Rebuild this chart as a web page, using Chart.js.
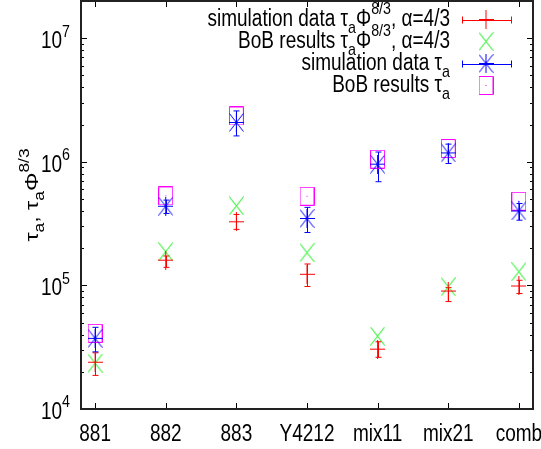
<!DOCTYPE html>
<html>
<head>
<meta charset="utf-8">
<script src="https://cdn.jsdelivr.net/npm/chart.js@4.4.0/dist/chart.umd.min.js"></script>
<style>
  body { margin: 0; background: #fff; }
  canvas { display: block; }
</style>
</head>
<body>
<canvas id="grafico" width="541" height="449"></canvas>
<script>
// categorias del eje x
var categorias = ['881', '882', '883', 'Y4212', 'mix11', 'mix21', 'comb'];

// tau_a * Phi^(8/3), alpha=4/3 (simulacion, con barras de error)
var simEscalado   = [2.39e4, 1.60e5, 3.27e5, 1.23e5, 3.05e4, 9.0e4, 9.9e4];
var simEscaladoLo = [1.87e4, 1.40e5, 2.84e5, 0.98e5, 2.62e4, 7.4e4, 8.6e4];
var simEscaladoHi = [2.85e4, 1.73e5, 3.75e5, 1.49e5, 3.50e4, 9.6e4, 1.10e5];
// tau_a * Phi^(8/3), alpha=4/3 (BoB)
var bobEscalado   = [2.35e4, 1.87e5, 4.4e5, 1.84e5, 3.89e4, 9.75e4, 1.29e5];

// tau_a (simulacion, con barras de error)
var simTau   = [3.73e4, 4.37e5, 2.08e6, 3.48e5, 9.57e5, 1.18e6, 4.0e5];
var simTauLo = [2.90e4, 3.82e5, 1.62e6, 2.68e5, 6.9e5, 9.7e5, 3.37e5];
var simTauHi = [4.58e4, 4.90e5, 2.58e6, 4.28e5, 1.2e6, 1.39e6, 4.6e5];
// tau_a (BoB)
var bobTau   = [4.1e4, 5.3e5, 2.35e6, 5.27e5, 1.05e6, 1.28e6, 4.8e5];

// etiquetas del eje y (potencias de 10)
var exponentesY = [4, 5, 6, 7];

var FUENTE = '"Liberation Sans", Arial, sans-serif';
var SY = 1.22;      // el original esta estirado en vertical
var TAM = 19;

function puntos(valores) {
  return valores.map(function(v, i) { return { x: i, y: v }; });
}

// marcadores estilo gnuplot
function marcador(tipo, color) {
  var c = document.createElement('canvas');
  var w = 15, h = 19;
  c.width = w; c.height = h;
  var g = c.getContext('2d');
  g.strokeStyle = color;
  g.fillStyle = color;
  g.lineWidth = 1;
  g.beginPath();
  if (tipo === 'mas' || tipo === 'estrella') {
    g.moveTo(0, h / 2); g.lineTo(w, h / 2);
    g.moveTo(w / 2, 0); g.lineTo(w / 2, h);
  }
  if (tipo === 'equis' || tipo === 'estrella') {
    g.moveTo(0.5, 0.5); g.lineTo(w - 0.5, h - 0.5);
    g.moveTo(w - 0.5, 0.5); g.lineTo(0.5, h - 0.5);
  }
  if (tipo === 'caja') {
    g.rect(0.5, 0.5, w - 1, h - 1);
  }
  g.stroke();
  if (tipo === 'caja') g.fillRect(7, 9, 1, 1);
  return c;
}

var mRojo = marcador('mas', '#ff0000');
var mVerde = marcador('equis', '#00ee00');
var mAzul = marcador('estrella', '#0000ff');
var mMagenta = marcador('caja', '#ff00ff');

var erroresPorDataset = { 0: [simEscaladoLo, simEscaladoHi], 2: [simTauLo, simTauHi] };

// texto con subindices / superindices: partes = [[texto, tipo]] tipo 0 normal, 1 sub, -1 sup
function textoRico(ctx, partes, x, y, tam, alinear, rotado) {
  ctx.save();
  ctx.translate(x, y);
  if (rotado) { ctx.rotate(-Math.PI / 2); ctx.scale(SY, 1); }
  else ctx.scale(1, SY);
  var ancho = 0;
  partes.forEach(function(p) {
    ctx.font = (p[1] ? tam * 0.75 : tam) + 'px ' + FUENTE;
    ancho += ctx.measureText(p[0]).width;
  });
  var cx = alinear === 'right' ? -ancho : alinear === 'center' ? -ancho / 2 : 0;
  ctx.textAlign = 'left';
  ctx.textBaseline = 'alphabetic';
  ctx.fillStyle = '#000';
  partes.forEach(function(p) {
    ctx.font = (p[1] ? tam * 0.75 : tam) + 'px ' + FUENTE;
    var dy = p[1] === 1 ? 0.3 * tam : p[1] === -1 ? -0.5 * tam : 0;
    ctx.fillText(p[0], cx, dy);
    cx += ctx.measureText(p[0]).width;
  });
  ctx.restore();
}

function barra(ctx, x, y1, y2, color) {
  ctx.strokeStyle = color;
  ctx.lineWidth = 1;
  ctx.beginPath();
  ctx.moveTo(x, y1); ctx.lineTo(x, y2);
  ctx.moveTo(x - 3, y1); ctx.lineTo(x + 3, y1);
  ctx.moveTo(x - 3, y2); ctx.lineTo(x + 3, y2);
  ctx.stroke();
}

var pluginGnuplot = {
  id: 'gnuplot',
  beforeDraw: function(chart) {
    var ctx = chart.ctx;
    ctx.save();
    ctx.fillStyle = '#fff';
    ctx.fillRect(0, 0, chart.width, chart.height);
    ctx.restore();
  },
  beforeDatasetsDraw: function(chart) {
    var ctx = chart.ctx;
    var xs = chart.scales.x, ys = chart.scales.y;
    ctx.save();
    Object.keys(erroresPorDataset).forEach(function(k) {
      var ds = chart.data.datasets[k];
      var lo = erroresPorDataset[k][0], hi = erroresPorDataset[k][1];
      ds.data.forEach(function(p, i) {
        var px = Math.round(xs.getPixelForValue(p.x)) + 0.5;
        barra(ctx, px, ys.getPixelForValue(lo[i]), ys.getPixelForValue(hi[i]), ds.borderColor);
      });
    });
    ctx.restore();
  },
  afterDraw: function(chart) {
    var ctx = chart.ctx;
    var a = chart.chartArea;
    var xs = chart.scales.x, ys = chart.scales.y;
    ctx.save();

    // marcas del eje y (log) a ambos lados
    ctx.strokeStyle = '#000';
    ctx.lineWidth = 1;
    ctx.beginPath();
    for (var e = 4; e <= 7; e++) {
      for (var m = 1; m <= 9; m++) {
        var v = m * Math.pow(10, e);
        if (v > ys.max) break;
        var py = Math.round(ys.getPixelForValue(v)) + 0.5;
        var largo = m === 1 ? 6 : 3;
        ctx.moveTo(a.left, py); ctx.lineTo(a.left + largo, py);
        ctx.moveTo(a.right, py); ctx.lineTo(a.right - largo, py);
      }
    }
    // marcas del eje x arriba y abajo
    categorias.forEach(function(c, i) {
      var px = Math.round(xs.getPixelForValue(i)) + 0.5;
      ctx.moveTo(px, a.bottom); ctx.lineTo(px, a.bottom - 6);
      ctx.moveTo(px, a.top); ctx.lineTo(px, a.top + 6);
    });
    ctx.stroke();

    // borde
    ctx.lineWidth = 2;
    ctx.strokeStyle = '#222';
    ctx.strokeRect(a.left, a.top, a.right - a.left, a.bottom - a.top);

    // etiquetas x
    categorias.forEach(function(c, i) {
      textoRico(ctx, [[c, 0]], xs.getPixelForValue(i), 441, TAM, 'center');
    });
    // etiquetas y
    exponentesY.forEach(function(e) {
      var py = ys.getPixelForValue(Math.pow(10, e));
      textoRico(ctx, [['10', 0], [String(e), -1]], 70, py + 10, TAM, 'right');
    });

    // titulo del eje y
    textoRico(ctx, [['τ', 0], ['a', 1], [', τ', 0], ['a', 1], ['Φ', 0], ['8/3', -1]],
      38, 195, TAM, 'center', true);

    // leyenda
    var filas = [
      { partes: [['simulation data τ', 0], ['a', 1], ['Φ', 0], ['8/3', -1], [', α=4/3', 0]], img: mRojo, color: '#ff0000', err: true },
      { partes: [['BoB results τ', 0], ['a', 1], ['Φ', 0], ['8/3', -1], [', α=4/3', 0]], img: mVerde },
      { partes: [['simulation data τ', 0], ['a', 1]], img: mAzul, color: '#0000ff', err: true },
      { partes: [['BoB results τ', 0], ['a', 1]], img: mMagenta }
    ];
    filas.forEach(function(f, i) {
      var base = 26 + i * 22;
      textoRico(ctx, f.partes, 450, base, TAM, 'right');
      var cy = base - 6.5;
      if (f.err) {
        ctx.strokeStyle = f.color;
        ctx.lineWidth = 1;
        ctx.beginPath();
        ctx.moveTo(462, Math.round(cy) + 0.5); ctx.lineTo(512, Math.round(cy) + 0.5);
        ctx.moveTo(462.5, cy - 3); ctx.lineTo(462.5, cy + 4);
        ctx.moveTo(511.5, cy - 3); ctx.lineTo(511.5, cy + 4);
        ctx.stroke();
      }
      ctx.drawImage(f.img, 486 - f.img.width / 2, cy - f.img.height / 2);
    });
    ctx.restore();
  }
};

var grafico = new Chart(document.getElementById('grafico'), {
  type: 'scatter',
  data: {
    datasets: [
      { label: 'simulation data', data: puntos(simEscalado), borderColor: '#ff0000', pointStyle: mRojo, pointRadius: 8 },
      { label: 'BoB results', data: puntos(bobEscalado), borderColor: '#00ee00', pointStyle: mVerde, pointRadius: 8 },
      { label: 'simulation data tau', data: puntos(simTau), borderColor: '#0000ff', pointStyle: mAzul, pointRadius: 8 },
      { label: 'BoB results tau', data: puntos(bobTau), borderColor: '#ff00ff', pointStyle: mMagenta, pointRadius: 8 }
    ]
  },
  options: {
    responsive: false,
    animation: false,
    devicePixelRatio: 1,
    layout: { autoPadding: false, padding: { left: 81, right: 8, top: 1, bottom: 40 } },
    scales: {
      x: { type: 'linear', min: -0.2, max: 6.2, display: false },
      y: { type: 'logarithmic', min: 1e4, max: 2e7, display: false }
    },
    plugins: {
      legend: { display: false },
      tooltip: { enabled: false }
    }
  },
  plugins: [pluginGnuplot]
});
</script>
</body>
</html>
